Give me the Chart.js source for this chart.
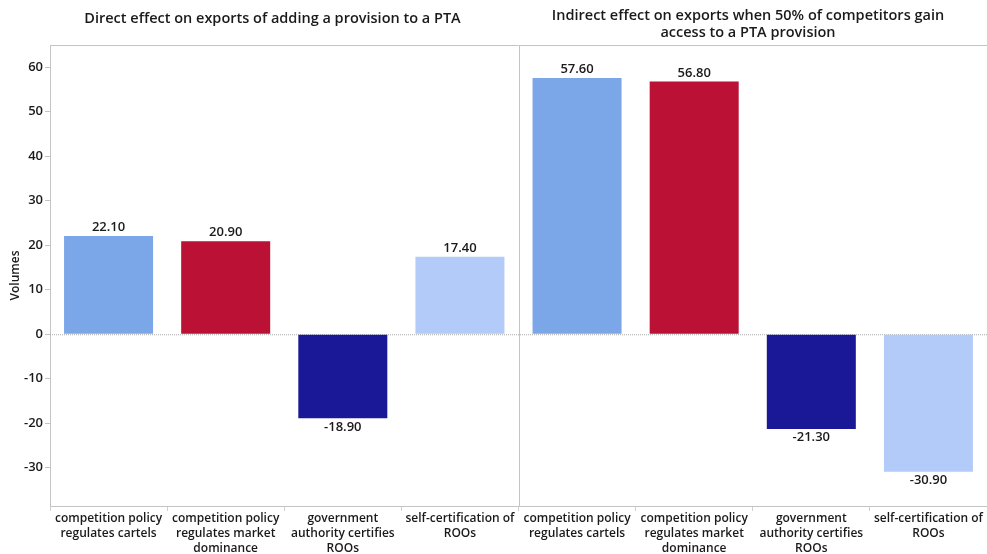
<!DOCTYPE html>
<html>
<head>
<meta charset="utf-8">
<script src="https://cdn.jsdelivr.net/npm/chart.js@4/dist/chart.umd.min.js"></script>
<style>
    html, body { margin: 0; padding: 0; background: #fff; }
    #wrap { position: relative; width: 987px; height: 554px; }
</style>
</head>
<body>
<div id="wrap"><canvas id="chart" width="987" height="554"></canvas></div>
<script>
// Chart data
const categories = [
    ['competition policy', 'regulates cartels'],
    ['competition policy', 'regulates market', 'dominance'],
    ['government', 'authority certifies', 'ROOs'],
    ['self-certification of', 'ROOs']
];
const directValues = [22.1, 20.9, -18.9, 17.4];
const indirectValues = [57.6, 56.8, -21.3, -30.9];
const panelTitles = [
    ['Direct effect on exports of adding a provision to a PTA'],
    ['Indirect effect on exports when 50% of competitors gain', 'access to a PTA provision']
];
const barColors = ['#7ba6e8', '#ba1135', '#1a1896', '#b2cbf8'];
const yTicks = [-30, -20, -10, 0, 10, 20, 30, 40, 50, 60];

const FONT = '"Open Sans", "DejaVu Sans", sans-serif';

// one chart, two panels of four bars each
const labels = categories.concat(categories);
const values = directValues.concat(indirectValues);
const colors = barColors.concat(barColors);

// Draws panel titles, frame, divider, zero line and value labels
const panelPlugin = {
    id: 'panels',
    beforeDatasetsDraw(chart) {
        const { ctx, chartArea, scales } = chart;
        const y0 = scales.y.getPixelForValue(0);
        ctx.save();
        ctx.strokeStyle = '#aaa';
        ctx.lineWidth = 1;
        ctx.setLineDash([1, 1]);
        ctx.beginPath();
        ctx.moveTo(chartArea.left, y0 + 0.5);
        ctx.lineTo(chartArea.right, y0 + 0.5);
        ctx.stroke();
        ctx.restore();
    },
    afterDatasetsDraw(chart) {
        const { ctx, chartArea, scales } = chart;
        const x = scales.x;
        const divider = Math.round((x.getPixelForValue(3) + x.getPixelForValue(4)) / 2);

        ctx.save();
        ctx.strokeStyle = '#c4c4c4';
        ctx.lineWidth = 1;
        ctx.beginPath();
        ctx.moveTo(chartArea.left, chartArea.top + 0.5);
        ctx.lineTo(chartArea.right, chartArea.top + 0.5);
        ctx.moveTo(divider + 0.5, chartArea.top);
        ctx.lineTo(divider + 0.5, chartArea.bottom);
        ctx.stroke();

        // titles
        ctx.fillStyle = '#1a1a1a';
        ctx.font = '600 14.5px ' + FONT;
        ctx.textAlign = 'center';
        ctx.textBaseline = 'middle';
        const centers = [
            (chartArea.left + divider) / 2 - 12,
            (divider + chartArea.right) / 2 - 5
        ];
        panelTitles.forEach((lines, i) => {
            const startY = lines.length === 1 ? 19 : 16;
            lines.forEach((line, j) => {
                ctx.fillText(line, centers[i], startY + j * 17);
            });
        });

        // value labels
        ctx.font = '600 13px ' + FONT;
        const meta = chart.getDatasetMeta(0);
        meta.data.forEach((bar, i) => {
            const v = values[i];
            const txt = v.toFixed(2);
            if (v >= 0) {
                ctx.textBaseline = 'bottom';
                ctx.fillText(txt, bar.x, bar.y - 2);
            } else {
                ctx.textBaseline = 'top';
                ctx.fillText(txt, bar.x, bar.y + 2);
            }
        });
        ctx.restore();
    }
};

document.addEventListener('DOMContentLoaded', () => {
    const ctx = document.getElementById('chart').getContext('2d');
    window.chart = new Chart(ctx, {
        type: 'bar',
        data: {
            labels: labels,
            datasets: [{
                data: values,
                backgroundColor: colors,
                borderWidth: 0,
                barPercentage: 0.76,
                categoryPercentage: 1
            }]
        },
        options: {
            responsive: false,
            animation: false,
            layout: { padding: { top: 45, left: 8, right: 0, bottom: 0 } },
            plugins: {
                legend: { display: false },
                tooltip: { enabled: false }
            },
            scales: {
                x: {
                    grid: {
                        offset: true,
                        drawOnChartArea: false,
                        tickLength: 5,
                        color: '#d0d0d0'
                    },
                    border: { color: '#c4c4c4' },
                    ticks: {
                        autoSkip: false,
                        maxRotation: 0,
                        minRotation: 0,
                        color: '#1a1a1a',
                        padding: 0,
                        font: { family: FONT, size: 12, weight: '600', lineHeight: 1.25 }
                    },
                    afterFit(scale) { scale.height = 48; }
                },
                y: {
                    min: -38.6,
                    max: 65,
                    afterBuildTicks(scale) {
                        scale.ticks = yTicks.map(v => ({ value: v }));
                    },
                    grid: {
                        drawOnChartArea: false,
                        tickLength: 5,
                        color: '#c4c4c4'
                    },
                    border: { color: '#c4c4c4' },
                    ticks: {
                        color: '#1a1a1a',
                        padding: 2,
                        font: { family: FONT, size: 13, weight: '600' }
                    },
                    title: {
                        display: true,
                        text: 'Volumes',
                        color: '#1a1a1a',
                        padding: { top: 0, bottom: 0 },
                        font: { family: FONT, size: 12, weight: '600' }
                    },
                    afterFit(scale) { scale.width = 42; }
                }
            }
        },
        plugins: [panelPlugin]
    });
});
</script>
</body>
</html>
